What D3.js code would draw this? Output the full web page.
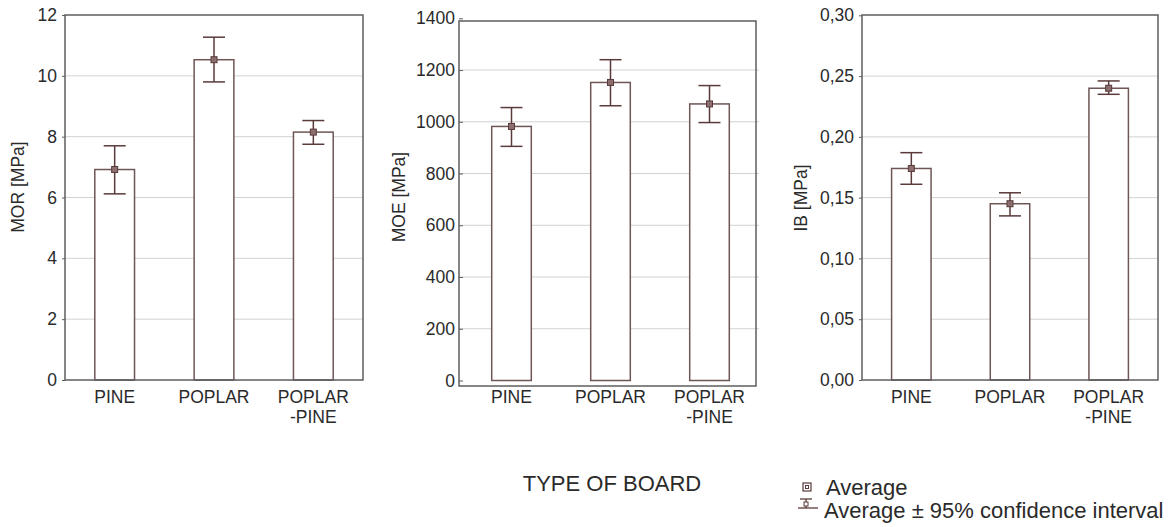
<!DOCTYPE html>
<html lang="en">
<head>
    <meta charset="UTF-8">
    <title>Type of board</title>
    <script src="https://d3js.org/d3.v7.min.js"></script>
    <style>
        body { margin: 0; background: #fff; }
        svg text { font-family: "Liberation Sans", Arial, sans-serif; fill: #2a2a2a; }
    </style>
</head>
<body>
<script>

    // data
    let categories = ["PINE", "POPLAR", "POPLAR-PINE"];
    let category_lines = [["PINE"], ["POPLAR"], ["POPLAR", "-PINE"]];

    let mor_mean = [6.92, 10.53, 8.15];
    let mor_low = [6.12, 9.80, 7.75];
    let mor_high = [7.70, 11.27, 8.53];

    let moe_mean = [982, 1152, 1069];
    let moe_low = [905, 1062, 997];
    let moe_high = [1055, 1240, 1140];

    let ib_mean = [0.174, 0.145, 0.240];
    let ib_low = [0.161, 0.135, 0.235];
    let ib_high = [0.187, 0.154, 0.246];

    let mor_ticks = [0, 2, 4, 6, 8, 10, 12];
    let moe_ticks = [0, 200, 400, 600, 800, 1000, 1200, 1400];
    let ib_ticks = [0, 0.05, 0.10, 0.15, 0.20, 0.25, 0.30];

    let width = 1176, height = 527;
    let bar_color = "#6f5656";
    let err_color = "#5a3a3a";
    let frame_color = "#5e5e5e";
    let grid_color = "#d2d2d2";

    let svg = d3.select("body").append("svg")
        .attr("width", width)
        .attr("height", height);

    let panels = [
        {title: "MOR [MPa]", mean: mor_mean, low: mor_low, high: mor_high, ticks: mor_ticks,
            fmt: d3.format("d"), domain: [0, 12], yrange: [380, 15],
            frame: [65, 363, 15, 380], band: [65, 363], inner: false, tx: 18, ty: 187},
        {title: "MOE [MPa]", mean: moe_mean, low: moe_low, high: moe_high, ticks: moe_ticks,
            fmt: d3.format("d"), domain: [0, 1400], yrange: [380.5, 18.3],
            frame: [459, 756, 21, 386], band: [462, 759], inner: true, tx: 399, ty: 197},
        {title: "IB [MPa]", mean: ib_mean, low: ib_low, high: ib_high, ticks: ib_ticks,
            fmt: function (d) { return d3.format(".2f")(d).replace(".", ","); },
            domain: [0, 0.30], yrange: [380, 15.3],
            frame: [862, 1158, 15, 380], band: [862, 1158], inner: false, tx: 801, ty: 198}
    ];

    panels.forEach(function (p) {
        let g = svg.append("g");

        let y = d3.scaleLinear().domain(p.domain).range(p.yrange);
        let x = d3.scaleBand().domain(categories).range(p.band)
            .paddingInner(0.6).paddingOuter(0.3);

        // gridlines
        g.selectAll(".grid")
            .data(p.ticks.filter(function (t) { return t > 0 && t < p.domain[1]; }))
            .enter().append("line")
            .attr("x1", p.frame[0])
            .attr("x2", p.band[1])
            .attr("y1", function (d) { return y(d); })
            .attr("y2", function (d) { return y(d); })
            .style("stroke", grid_color)
            .style("stroke-width", 1);

        // y axis labels
        let axis = d3.axisLeft(y).tickValues(p.ticks).tickFormat(p.fmt)
            .tickSize(p.inner ? -4 : 3).tickPadding(p.inner ? 4 : 5);
        let ax = g.append("g")
            .attr("transform", "translate(" + p.frame[0] + ",0)")
            .call(axis);
        ax.select(".domain").remove();
        ax.selectAll(".tick line").style("stroke", frame_color);
        ax.selectAll(".tick text")
            .style("font-size", "17.5px")
            .style("fill", "#2a2a2a");

        // bars
        g.selectAll(".bar")
            .data(p.mean)
            .enter().append("rect")
            .attr("x", function (d, i) { return x(categories[i]); })
            .attr("width", x.bandwidth())
            .attr("y", function (d) { return y(d); })
            .attr("height", function (d) { return y(0) - y(d); })
            .style("fill", "#fff")
            .style("stroke", bar_color)
            .style("stroke-width", 1.5);

        // frame
        g.append("rect")
            .attr("x", p.frame[0])
            .attr("y", p.frame[2])
            .attr("width", p.frame[1] - p.frame[0])
            .attr("height", p.frame[3] - p.frame[2])
            .style("fill", "none")
            .style("stroke", frame_color)
            .style("stroke-width", 1.5);

        // confidence intervals
        let cap = 11;
        p.mean.forEach(function (m, i) {
            let cx = x(categories[i]) + x.bandwidth() / 2;
            let eg = g.append("g").style("stroke", err_color).style("stroke-width", 1.5);
            eg.append("line").attr("x1", cx).attr("x2", cx)
                .attr("y1", y(p.low[i])).attr("y2", y(p.high[i]));
            eg.append("line").attr("x1", cx - cap).attr("x2", cx + cap)
                .attr("y1", y(p.low[i])).attr("y2", y(p.low[i]));
            eg.append("line").attr("x1", cx - cap).attr("x2", cx + cap)
                .attr("y1", y(p.high[i])).attr("y2", y(p.high[i]));
            g.append("rect")
                .attr("x", cx - 3).attr("y", y(m) - 3)
                .attr("width", 6).attr("height", 6)
                .style("fill", "#8c6e6e")
                .style("stroke", err_color)
                .style("stroke-width", 1);
        });

        // category labels
        categories.forEach(function (c, i) {
            let cx = x(c) + x.bandwidth() / 2;
            let t = g.append("text")
                .attr("text-anchor", "middle")
                .style("font-size", "17.5px");
            category_lines[i].forEach(function (line, j) {
                t.append("tspan").attr("x", cx).attr("y", 403 + j * 20).text(line);
            });
        });

        // y title
        g.append("text")
            .attr("transform", "translate(" + (p.tx + 6) + "," + p.ty + ") rotate(-90)")
            .attr("text-anchor", "middle")
            .style("font-size", "17.5px")
            .text(p.title);
    });

    svg.append("text")
        .attr("x", 612)
        .attr("y", 491)
        .attr("text-anchor", "middle")
        .style("font-size", "22px")
        .text("TYPE OF BOARD");

    // legend
    let lg = svg.append("g");
    lg.append("rect").attr("x", 803).attr("y", 483).attr("width", 8).attr("height", 8)
        .style("fill", "none").style("stroke", err_color).style("stroke-width", 1.2);
    lg.append("rect").attr("x", 805.5).attr("y", 485.5).attr("width", 3).attr("height", 3)
        .style("fill", "none").style("stroke", err_color).style("stroke-width", 1);
    lg.append("text").attr("x", 826).attr("y", 495).style("font-size", "22px").text("Average");

    let le = lg.append("g").style("stroke", err_color).style("stroke-width", 1.3);
    le.append("line").attr("x1", 800).attr("x2", 812).attr("y1", 499).attr("y2", 499);
    le.append("line").attr("x1", 798).attr("x2", 818).attr("y1", 508).attr("y2", 508);
    le.append("line").attr("x1", 806).attr("x2", 806).attr("y1", 499).attr("y2", 508);
    lg.append("rect").attr("x", 804).attr("y", 502).attr("width", 4).attr("height", 4)
        .style("fill", "#fff").style("stroke", err_color).style("stroke-width", 1);
    lg.append("text").attr("x", 824).attr("y", 518).style("font-size", "22px")
        .text("Average \u00b1 95% confidence interval");

</script>
</body>
</html>
